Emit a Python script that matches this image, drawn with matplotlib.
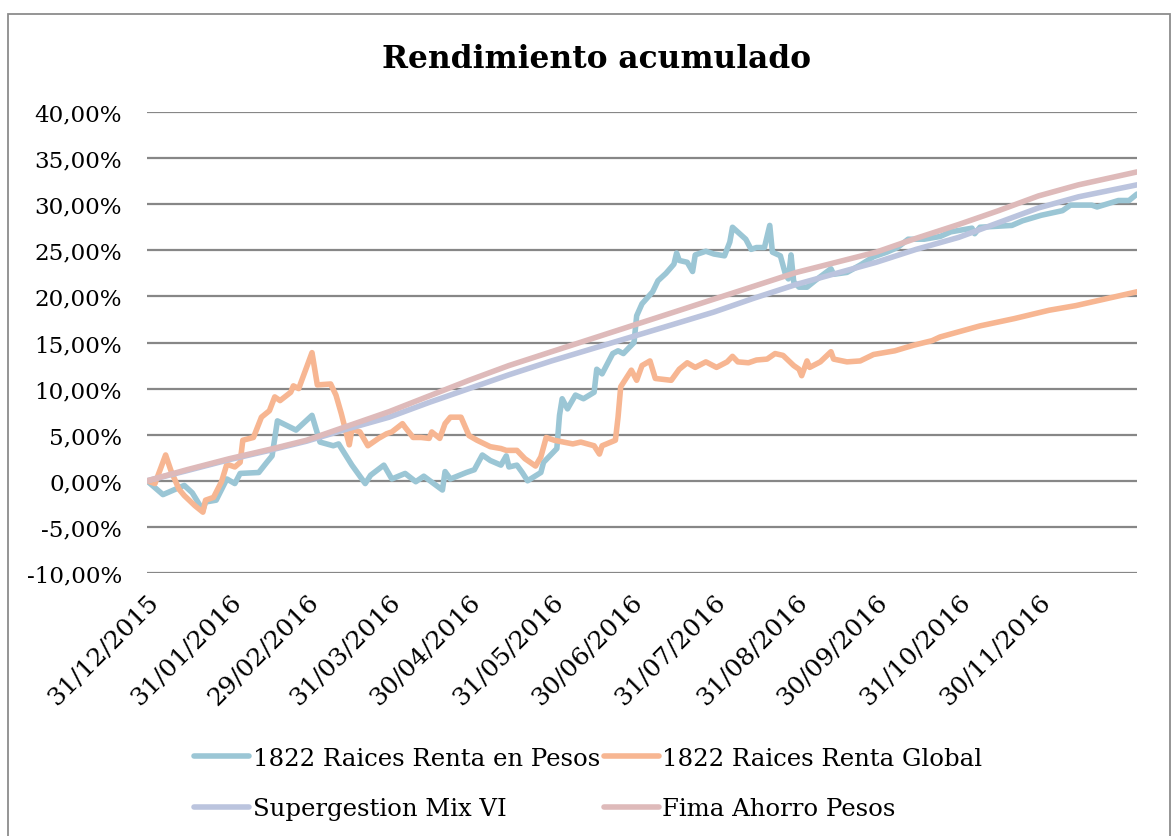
import matplotlib
matplotlib.use("Agg")
import matplotlib.pyplot as plt
import matplotlib.transforms as mtransforms
from matplotlib.patches import Rectangle
from matplotlib.ticker import FuncFormatter
import pandas as pd

plt.rcParams['font.family'] = ['DejaVu Serif']

title = "Rendimiento acumulado"
series_names = ["1822 Raices Renta en Pesos", "1822 Raices Renta Global",
                "Supergestion Mix VI", "Fima Ahorro Pesos"]
colors = ["#9BC6D5", "#F7B692", "#BBC4DE", "#DEBABA"]

pesos_dates = ["2015-12-31", "2016-01-06", "2016-01-14", "2016-01-17", "2016-01-21", "2016-01-22",
               "2016-01-26", "2016-01-30", "2016-02-02", "2016-02-04", "2016-02-11", "2016-02-14",
               "2016-02-16", "2016-02-18", "2016-02-25", "2016-03-02", "2016-03-05", "2016-03-10",
               "2016-03-12", "2016-03-17", "2016-03-22", "2016-03-24", "2016-03-29", "2016-04-01",
               "2016-04-06", "2016-04-10", "2016-04-13", "2016-04-20", "2016-04-21", "2016-04-23",
               "2016-04-29", "2016-05-02", "2016-05-05", "2016-05-08", "2016-05-12", "2016-05-14",
               "2016-05-15", "2016-05-18", "2016-05-20", "2016-05-22", "2016-05-27", "2016-05-28",
               "2016-06-02", "2016-06-03", "2016-06-04", "2016-06-06", "2016-06-09", "2016-06-12",
               "2016-06-16", "2016-06-17", "2016-06-19", "2016-06-23", "2016-06-25", "2016-06-27",
               "2016-07-01", "2016-07-02", "2016-07-04", "2016-07-08", "2016-07-10", "2016-07-13",
               "2016-07-16", "2016-07-17", "2016-07-18", "2016-07-21", "2016-07-23", "2016-07-24",
               "2016-07-28", "2016-07-31", "2016-08-04", "2016-08-06", "2016-08-07", "2016-08-12",
               "2016-08-14", "2016-08-16", "2016-08-19", "2016-08-21", "2016-08-22", "2016-08-25",
               "2016-08-27", "2016-08-28", "2016-08-29", "2016-08-30", "2016-09-01", "2016-09-04",
               "2016-09-07", "2016-09-13", "2016-09-14", "2016-09-19", "2016-09-24", "2016-09-29",
               "2016-10-04", "2016-10-08", "2016-10-12", "2016-10-18", "2016-10-24", "2016-10-28",
               "2016-11-05", "2016-11-06", "2016-11-08", "2016-11-20", "2016-11-24", "2016-12-01",
               "2016-12-09", "2016-12-12", "2016-12-20", "2016-12-22", "2016-12-30", "2017-01-03",
               "2017-01-06"]
pesos_vals = [0.0, -1.5, -0.5, -1.3, -3.2, -2.3,
              -2.1, 0.2, -0.3, 0.8, 0.9, 2.0,
              2.7, 6.5, 5.5, 7.1, 4.2, 3.8,
              4.0, 1.7, -0.3, 0.6, 1.7, 0.2,
              0.8, -0.1, 0.5, -1.0, 1.0, 0.2,
              0.9, 1.2, 2.8, 2.2, 1.7, 2.7,
              1.5, 1.7, 0.9, 0.0, 0.9, 2.0,
              3.5, 7.1, 8.9, 7.8, 9.3, 8.9,
              9.6, 12.1, 11.6, 13.8, 14.1, 13.8,
              15.0, 17.9, 19.2, 20.5, 21.7, 22.5,
              23.5, 24.7, 23.9, 23.7, 22.7, 24.5,
              24.9, 24.6, 24.4, 25.9, 27.5, 26.2,
              25.1, 25.3, 25.3, 27.7, 24.8, 24.4,
              22.3, 21.9, 24.5, 21.6, 21.0, 21.0,
              21.7, 23.0, 22.4, 22.6, 23.4, 24.3,
              24.8, 25.3, 26.2, 26.2, 26.5, 27.0,
              27.4, 26.8, 27.5, 27.7, 28.2, 28.8,
              29.3, 29.9, 29.9, 29.7, 30.4, 30.4,
              31.1]

global_dates = ["2015-12-31", "2016-01-03", "2016-01-07", "2016-01-09", "2016-01-12", "2016-01-14",
                "2016-01-18", "2016-01-21", "2016-01-22", "2016-01-25", "2016-01-28", "2016-01-30",
                "2016-02-02", "2016-02-04", "2016-02-05", "2016-02-09", "2016-02-12", "2016-02-15",
                "2016-02-17", "2016-02-19", "2016-02-23", "2016-02-24", "2016-02-26", "2016-03-02",
                "2016-03-04", "2016-03-09", "2016-03-11", "2016-03-13", "2016-03-16", "2016-03-17",
                "2016-03-20", "2016-03-23", "2016-03-27", "2016-03-30", "2016-04-01", "2016-04-05",
                "2016-04-06", "2016-04-09", "2016-04-12", "2016-04-15", "2016-04-16", "2016-04-19",
                "2016-04-21", "2016-04-23", "2016-04-27", "2016-04-30", "2016-05-03", "2016-05-08",
                "2016-05-12", "2016-05-14", "2016-05-18", "2016-05-21", "2016-05-25", "2016-05-27",
                "2016-05-29", "2016-06-01", "2016-06-08", "2016-06-11", "2016-06-16", "2016-06-18",
                "2016-06-19", "2016-06-24", "2016-06-25", "2016-06-26", "2016-06-30", "2016-07-02",
                "2016-07-04", "2016-07-07", "2016-07-09", "2016-07-15", "2016-07-18", "2016-07-21",
                "2016-07-24", "2016-07-28", "2016-08-01", "2016-08-05", "2016-08-07", "2016-08-09",
                "2016-08-13", "2016-08-16", "2016-08-20", "2016-08-23", "2016-08-26", "2016-08-30",
                "2016-09-01", "2016-09-02", "2016-09-04", "2016-09-05", "2016-09-09", "2016-09-13",
                "2016-09-14", "2016-09-19", "2016-09-24", "2016-09-29", "2016-10-07", "2016-10-14",
                "2016-10-21", "2016-10-24", "2016-11-08", "2016-11-21", "2016-12-04", "2016-12-14",
                "2017-01-06"]
global_vals = [0.0, -0.3, 2.8, 1.1, -0.9, -1.6,
               -2.7, -3.4, -2.1, -1.8, -0.1, 1.8,
               1.5, 2.0, 4.4, 4.7, 6.9, 7.6,
               9.1, 8.7, 9.6, 10.3, 10.0, 13.9,
               10.4, 10.5, 9.3, 7.3, 3.9, 5.6,
               5.3, 3.8, 4.6, 5.1, 5.3, 6.2,
               5.8, 4.7, 4.7, 4.6, 5.3, 4.6,
               6.2, 6.9, 6.9, 4.9, 4.4, 3.7,
               3.5, 3.3, 3.3, 2.4, 1.6, 2.6,
               4.7, 4.4, 4.0, 4.2, 3.8, 2.9,
               3.8, 4.4, 6.9, 10.2, 12.0, 10.9,
               12.5, 13.0, 11.1, 10.9, 12.1, 12.8,
               12.3, 12.9, 12.3, 12.9, 13.5, 12.9,
               12.8, 13.1, 13.2, 13.8, 13.6, 12.5,
               12.1, 11.4, 13.0, 12.3, 12.9, 14.0,
               13.2, 12.9, 13.0, 13.7, 14.1, 14.7,
               15.2, 15.6, 16.8, 17.6, 18.5, 19.0,
               20.5]

smooth_dates = ["2015-12-31", "2016-01-15", "2016-01-31", "2016-02-15", "2016-02-29", "2016-03-15",
                "2016-03-31", "2016-04-15", "2016-04-30", "2016-05-15", "2016-05-31", "2016-06-15",
                "2016-06-30", "2016-07-15", "2016-07-31", "2016-08-15", "2016-08-31", "2016-09-15",
                "2016-09-30", "2016-10-15", "2016-10-31", "2016-11-15", "2016-11-30", "2016-12-15",
                "2017-01-06"]
super_vals = [0.0, 1.1, 2.3, 3.3, 4.3, 5.6,
              6.9, 8.5, 10.0, 11.5, 13.0, 14.3,
              15.6, 16.9, 18.3, 19.8, 21.3, 22.5,
              23.7, 25.1, 26.4, 28.0, 29.6, 30.8,
              32.1]
fima_vals = [0.0, 1.2, 2.4, 3.4, 4.4, 5.9,
             7.5, 9.2, 10.9, 12.5, 14.0, 15.4,
             16.8, 18.2, 19.7, 21.1, 22.6, 23.7,
             24.8, 26.3, 27.8, 29.3, 30.9, 32.1,
             33.5]

tick_dates = ["2015-12-31", "2016-01-31", "2016-02-29", "2016-03-31", "2016-04-30", "2016-05-31",
              "2016-06-30", "2016-07-31", "2016-08-31", "2016-09-30", "2016-10-31", "2016-11-30"]
tick_labels = ["31/12/2015", "31/01/2016", "29/02/2016", "31/03/2016", "30/04/2016", "31/05/2016",
               "30/06/2016", "31/07/2016", "31/08/2016", "30/09/2016", "31/10/2016", "30/11/2016"]
y_ticks = [-10, -5, 0, 5, 10, 15, 20, 25, 30, 35, 40]

W, H = 1173, 837
fig = plt.figure(figsize=(W / 100, H / 100), dpi=100)
fig.patch.set_facecolor("white")

# outer chart border
fig.patches.append(Rectangle((8 / W, -0.02), (1170 - 8) / W, 1 - 15 / H + 0.02,
                             transform=fig.transFigure, fill=False,
                             edgecolor="#8c8c8c", linewidth=1.3, zorder=0))

ax = fig.add_axes([147 / W, 1 - 574 / H, (1137 - 147) / W, (574 - 113) / H])

lw = 4.0
series = [
    (pd.to_datetime(pesos_dates), pesos_vals),
    (pd.to_datetime(global_dates), global_vals),
    (pd.to_datetime(smooth_dates), super_vals),
    (pd.to_datetime(smooth_dates), fima_vals),
]
handles = []
for (d, v), name, c in zip(series, series_names, colors):
    h, = ax.plot(d, v, color=c, lw=lw, label=name, solid_joinstyle="round",
                 solid_capstyle="round", zorder=3)
    handles.append(h)

ax.set_ylim(-10, 40)
ax.set_yticks(y_ticks)
ax.yaxis.set_major_formatter(FuncFormatter(lambda v, p: f"{v:.2f}%".replace(".", ",")))
ax.set_xlim(pd.Timestamp("2015-12-31"), pd.Timestamp("2017-01-06"))
ax.set_xticks(pd.to_datetime(tick_dates))
ax.set_xticklabels(tick_labels, rotation=45, ha="right", va="top",
                   rotation_mode="anchor")
ax.grid(axis="y", color="#878787", lw=1.6, zorder=1)
ax.set_axisbelow(True)
for s in ax.spines.values():
    s.set_visible(False)
ax.tick_params(axis="y", length=0, labelsize=16.6, colors="black", pad=18)
ax.tick_params(axis="x", length=0, labelsize=18.2, colors="black", pad=12)

fig.text(597 / W, 1 - 59 / H, title, ha="center", va="center",
         fontsize=22.5, fontweight="bold")

order = [0, 2, 1, 3]
fig.legend([handles[i] for i in order], [series_names[i] for i in order],
           loc="upper left", bbox_to_anchor=(194 / W, 1 - 748 / H), ncol=2,
           frameon=False, fontsize=17.6, handlelength=2.25, handletextpad=0.15,
           columnspacing=0.15, labelspacing=1.12, borderpad=0, borderaxespad=0)

fig.savefig("out.png", dpi=100)
